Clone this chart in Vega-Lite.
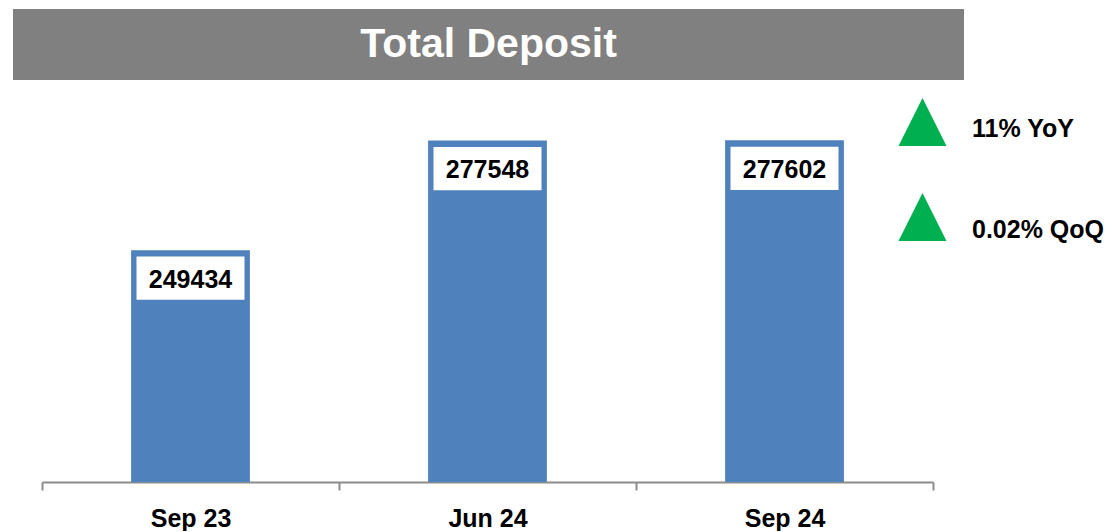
{
  "$schema": "https://vega.github.io/schema/vega-lite/v6.json",
  "background": "white",
  "padding": {"left": 13, "top": 9, "right": 0, "bottom": 0},
  "spacing": 12,
  "config": {"view": {"stroke": null}, "font": "Liberation Sans"},
  "vconcat": [
    {
      "width": 951,
      "height": 71,
      "view": {"fill": "#808080", "stroke": null},
      "data": {"values": [{"title": "Total Deposit"}]},
      "mark": {"type": "text", "fontSize": 41, "fontWeight": "bold", "color": "white", "baseline": "middle", "align": "center", "font": "Liberation Sans"},
      "encoding": {"text": {"field": "title"}}
    },
    {
      "width": 951,
      "height": 390,
      "layer": [
        {
          "data": {"values": [
            {"period": "Sep 23", "value": 249434},
            {"period": "Jun 24", "value": 277548},
            {"period": "Sep 24", "value": 277602}
          ]},
          "encoding": {
            "x": {
              "field": "period", "type": "nominal",
              "scale": {"domain": ["Sep 23", "Jun 24", "Sep 24"], "range": [29, 920], "paddingInner": 0, "paddingOuter": 0},
              "axis": {"title": null, "labelAngle": 0, "labelFontSize": 25, "labelFontWeight": "bold", "labelColor": "black", "labelFont": "Liberation Sans", "labelPadding": 16, "tickBand": "extent", "tickSize": 8, "tickWidth": 2, "tickColor": "#8c8c8c", "domainColor": "#8c8c8c", "domainWidth": 2, "grid": false}
            },
            "y": {"field": "value", "type": "quantitative", "stack": null, "scale": {"domain": [190000, 290000], "zero": false, "nice": false}, "axis": null}
          },
          "layer": [
            {"mark": {"type": "bar", "color": "#4F81BD", "width": {"band": 0.4}}},
            {"mark": {"type": "point", "shape": "M-1,-0.4H1V0.4H-1Z", "size": 11664, "filled": true, "color": "white", "opacity": 1, "yOffset": 28}},
            {"mark": {"type": "text", "fontSize": 25, "fontWeight": "bold", "color": "black", "baseline": "alphabetic", "align": "center", "yOffset": 37.5, "font": "Liberation Sans"},
             "encoding": {"text": {"field": "value", "type": "quantitative", "format": "d"}}}
          ]
        },
        {
          "data": {"values": [
            {"metric": "YoY", "label": "11% YoY"},
            {"metric": "QoQ", "label": "0.02% QoQ"}
          ]},
          "mark": {"type": "point", "shape": "M0,-1L1,1L-1,1Z", "size": 2304, "filled": true, "color": "#00B050", "opacity": 1, "xOffset": 138},
          "encoding": {
            "x": {"datum": "Sep 24", "type": "nominal", "scale": {"domain": ["Sep 23", "Jun 24", "Sep 24"], "range": [29, 920], "paddingInner": 0, "paddingOuter": 0}},
            "y": {"field": "metric", "type": "nominal", "scale": {"type": "point", "domain": ["YoY", "QoQ"], "range": [30, 125], "padding": 0}, "axis": null}
          }
        },
        {
          "data": {"values": [
            {"metric": "YoY", "label": "11% YoY"},
            {"metric": "QoQ", "label": "0.02% QoQ"}
          ]},
          "mark": {"type": "text", "fontSize": 25, "fontWeight": "bold", "color": "black", "baseline": "alphabetic", "align": "left", "xOffset": 187.5, "font": "Liberation Sans"},
          "encoding": {
            "x": {"datum": "Sep 24", "type": "nominal", "scale": {"domain": ["Sep 23", "Jun 24", "Sep 24"], "range": [29, 920], "paddingInner": 0, "paddingOuter": 0}},
            "y": {"field": "metric", "type": "nominal", "scale": {"type": "point", "domain": ["YoY", "QoQ"], "range": [44.7, 146.3], "padding": 0}, "axis": null},
            "text": {"field": "label"}
          }
        }
      ],
      "resolve": {"scale": {"y": "independent"}}
    }
  ]
}
